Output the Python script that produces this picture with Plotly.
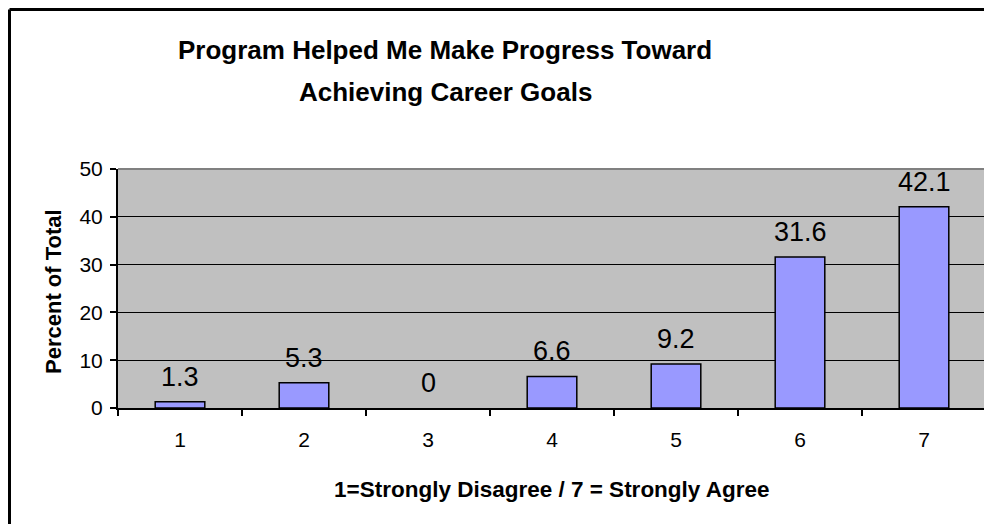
import plotly.graph_objects as go

categories = ["1", "2", "3", "4", "5", "6", "7"]
percent = [1.3, 5.3, 0, 6.6, 9.2, 31.6, 42.1]
label_text = ["1.3", "5.3", "0", "6.6", "9.2", "31.6", "42.1"]
y_ticks = [0, 10, 20, 30, 40, 50]
title_lines = ["Program Helped Me Make Progress Toward", "Achieving Career Goals"]

FONT = "Liberation Sans, Arial, sans-serif"

# page geometry of plot area (page has an 8px body margin)
PX0, PX1, PY0, PY1 = 118, 986, 169, 408


def px(x):
    return (x - PX0) / (PX1 - PX0)


def py(y):
    return (PY1 - y) / (PY1 - PY0)


fig = go.Figure()
fig.add_trace(go.Bar(
    x=categories, y=percent, width=0.4,
    marker=dict(color="#9999FF",
                line=dict(color="black", width=[1.5 if v > 0 else 0 for v in percent])),
    hoverinfo="skip",
))

for i, (v, t) in enumerate(zip(percent, label_text)):
    fig.add_annotation(x=i, y=v, text=t, showarrow=False, xref="x", yref="y",
                       yanchor="bottom", yshift=8,
                       font=dict(family=FONT, size=27, color="black"))

W, H = 984, 516
fig.update_layout(
    width=W, height=H,
    margin=dict(l=110, r=6, t=161, b=116),
    paper_bgcolor="white", plot_bgcolor="#C0C0C0",
    showlegend=False,
    font=dict(family=FONT, color="black"),
    xaxis=dict(type="category", tickson="boundaries", ticks="outside", ticklen=6,
               tickwidth=2, tickcolor="black", showline=True, linecolor="black",
               linewidth=2, showgrid=False, ticklabelstandoff=12, range=[-0.5, 6.5],
               tickfont=dict(family=FONT, size=21, color="black")),
    yaxis=dict(range=[0, 50], tickvals=y_ticks, ticks="outside", ticklen=6,
               tickwidth=2, tickcolor="black", showline=True, linecolor="black",
               linewidth=2, showgrid=True, gridcolor="black", gridwidth=1,
               zeroline=False, ticklabelstandoff=3,
               tickfont=dict(family=FONT, size=21, color="black")),
)

# chart title (two lines)
for line, yc in zip(title_lines, [50, 92]):
    fig.add_annotation(text="<b>" + line + "</b>", xref="paper", yref="paper",
                       x=px(445), y=py(yc), showarrow=False,
                       xanchor="center", yanchor="middle",
                       font=dict(family=FONT, size=26, color="black"))

# axis titles
fig.add_annotation(text="<b>Percent of Total</b>", xref="paper", yref="paper",
                   x=px(53), y=py(292), textangle=-90, showarrow=False,
                   xanchor="center", yanchor="middle",
                   font=dict(family=FONT, size=22, color="black"))
fig.add_annotation(text="<b>1=Strongly Disagree / 7 = Strongly Agree</b>", xref="paper",
                   yref="paper", x=0.5, y=py(489), showarrow=False,
                   xanchor="center", yanchor="middle",
                   font=dict(family=FONT, size=22.5, color="black"))

# gray top and right border of plot area
fig.add_shape(type="line", xref="paper", yref="paper", x0=0, x1=1, y0=1, y1=1,
              line=dict(color="#808080", width=2), layer="above")
fig.add_shape(type="line", xref="paper", yref="paper", x0=1, x1=1, y0=0, y1=1,
              line=dict(color="#808080", width=2), layer="above")

# outer chart border (left and top visible)
left_x = px(9.5)
top_y = py(9.5)
fig.add_shape(type="line", xref="paper", yref="paper", x0=left_x, x1=left_x,
              y0=-0.6, y1=top_y, line=dict(color="black", width=3))
fig.add_shape(type="line", xref="paper", yref="paper", x0=left_x, x1=1.2,
              y0=top_y, y1=top_y, line=dict(color="black", width=3))

fig.write_html("out.html")
